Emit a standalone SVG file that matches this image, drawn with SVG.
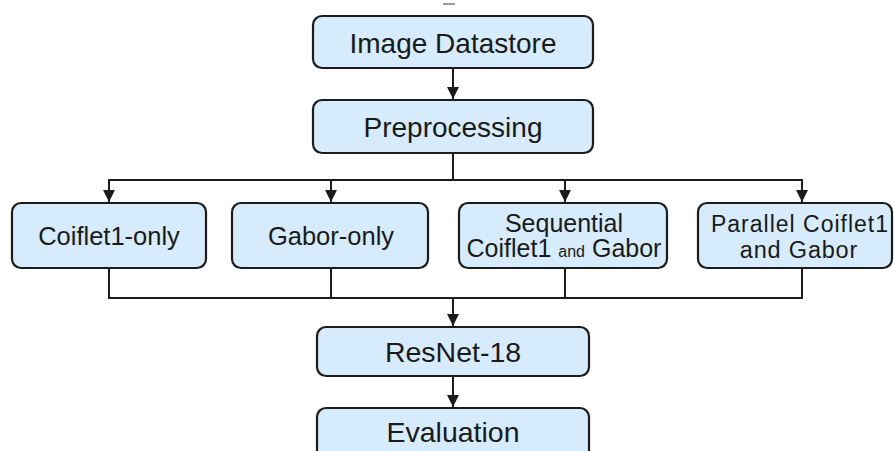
<svg xmlns="http://www.w3.org/2000/svg" width="894" height="451" viewBox="0 0 894 451">
<style>
.box{fill:#d6ebfb;stroke:#1c1c1c;stroke-width:2.2}
.t{font-family:"Liberation Sans",Arial,sans-serif;fill:#1a1a1a;text-anchor:middle}
.c{fill:none;stroke:#1c1c1c;stroke-width:2}
</style>
<defs>
<marker id="ah" viewBox="0 0 10 10" refX="10" refY="5" markerWidth="12" markerHeight="12" markerUnits="userSpaceOnUse" orient="auto">
<path d="M0,0 L10,5 L0,10 Z" fill="#1c1c1c"/>
</marker>
</defs>
<rect width="894" height="451" fill="#ffffff"/>
<rect x="443" y="3" width="12" height="2" fill="#9a9a9a"/>
<g id="connectors">
<line class="c" x1="453" y1="68" x2="453" y2="99" marker-end="url(#ah)"/>
<line class="c" x1="453" y1="153" x2="453" y2="180"/>
<line class="c" x1="108" y1="180" x2="802" y2="180"/>
<line class="c" x1="109" y1="180" x2="109" y2="202" marker-end="url(#ah)"/>
<line class="c" x1="331" y1="180" x2="331" y2="202" marker-end="url(#ah)"/>
<line class="c" x1="565" y1="180" x2="565" y2="202" marker-end="url(#ah)"/>
<line class="c" x1="802" y1="179" x2="802" y2="202" marker-end="url(#ah)"/>
<line class="c" x1="109" y1="268" x2="109" y2="298"/>
<line class="c" x1="331" y1="268" x2="331" y2="298"/>
<line class="c" x1="565" y1="268" x2="565" y2="298"/>
<line class="c" x1="802" y1="268" x2="802" y2="298"/>
<line class="c" x1="108" y1="298" x2="803" y2="298"/>
<line class="c" x1="453" y1="298" x2="453" y2="326" marker-end="url(#ah)"/>
<line class="c" x1="453" y1="376" x2="453" y2="407" marker-end="url(#ah)"/>
</g>
<g id="image-datastore">
<rect class="box" x="313" y="16" width="280" height="52" rx="9"/>
<text class="t" x="453" y="53" font-size="28">Image Datastore</text>
</g>
<g id="preprocessing">
<rect class="box" x="313" y="100" width="280" height="53" rx="9"/>
<text class="t" x="453" y="137" font-size="28">Preprocessing</text>
</g>
<g id="coiflet1-only">
<rect class="box" x="12" y="203" width="194" height="65" rx="9"/>
<text class="t" x="109" y="245" font-size="25.5">Coiflet1-only</text>
</g>
<g id="gabor-only">
<rect class="box" x="232" y="203" width="196" height="65" rx="9"/>
<text class="t" x="331" y="245" font-size="25.5">Gabor-only</text>
</g>
<g id="sequential">
<rect class="box" x="459" y="203" width="208" height="65" rx="9"/>
<text class="t" x="564" y="232" font-size="25">Sequential</text>
<text class="t" x="564" y="257" font-size="25">Coiflet1 <tspan font-size="16">and</tspan> Gabor</text>
</g>
<g id="parallel">
<rect class="box" x="698" y="203" width="194" height="65" rx="9"/>
<text class="t" x="800" y="232" font-size="23" letter-spacing="1">Parallel Coiflet1</text>
<text class="t" x="799" y="258" font-size="23.5" letter-spacing="0.8">and Gabor</text>
</g>
<g id="resnet-18">
<rect class="box" x="317" y="327" width="272" height="49" rx="9"/>
<text class="t" x="453" y="362" font-size="28.5">ResNet-18</text>
</g>
<g id="evaluation">
<rect class="box" x="317" y="408" width="272" height="60" rx="9"/>
<text class="t" x="453" y="442" font-size="28.5">Evaluation</text>
</g>
</svg>
